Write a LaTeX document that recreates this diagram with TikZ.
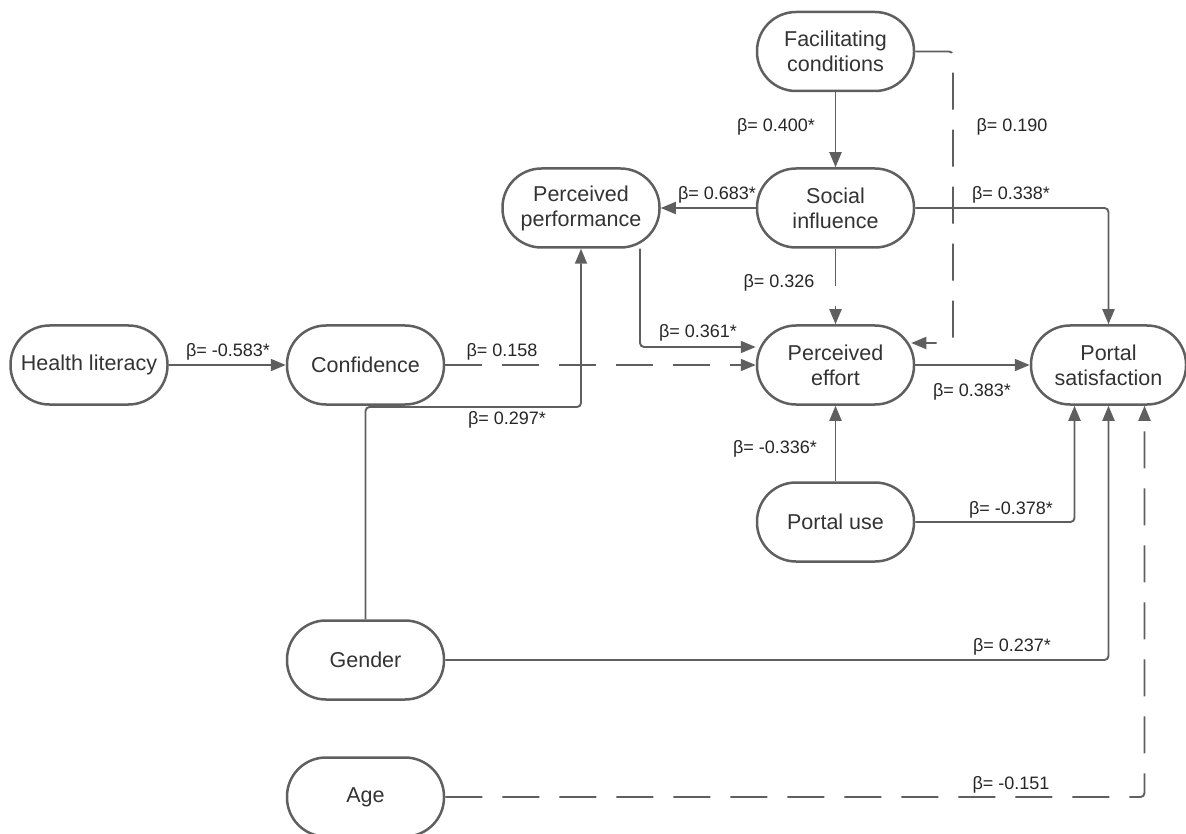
\documentclass[tikz,border=0pt]{standalone}
\usepackage{fontspec}
\setmainfont{Liberation Sans}
\usepackage{tikz}
\usetikzlibrary{arrows.meta,positioning}
\usepackage{xcolor}
\definecolor{linegray}{RGB}{95,95,95}
\definecolor{textgray}{RGB}{51,51,51}
\tikzstyle{factor} = [draw=linegray, line width=2.5pt, rounded corners=39pt, minimum width=157pt, minimum height=79pt, inner sep=0pt, align=center, text=textgray, font=\fontsize{21.5}{25}\selectfont]
\tikzstyle{link} = [line width=1.9pt, color=linegray, -{Triangle[length=15pt,width=12pt]}, rounded corners=4pt]
\tikzstyle{weaklink} = [link, dash pattern=on 37pt off 20pt]
\tikzstyle{coef} = [font=\fontsize{18}{20}\selectfont, text=black!85, inner sep=1pt]

\begin{document}
\begin{tikzpicture}[x=1pt, y=-1pt]
\useasboundingbox (0,0) rectangle (1186,834);

% Factors
\node[factor] (fc) at (835.5,51.5) {Facilitating\\conditions};
\node[factor] (si) at (835.5,208) {Social\\influence};
\node[factor] (pp) at (581,208) {Perceived\\performance};
\node[factor] (hl) at (89,365) {Health literacy};
\node[factor] (conf) at (365.5,365) {Confidence};
\node[factor] (pe) at (835.5,365) {Perceived\\effort};
\node[factor, minimum width=155pt] (ps) at (1108.5,365) {Portal\\satisfaction};
\node[factor] (pu) at (835.5,522) {Portal use};
\node[factor] (gender) at (365.5,660) {Gender};
\node[factor] (age) at (365.5,797) {Age};

% Bends
\coordinate (fcdrop) at (953,343);
\coordinate (gbend) at (365.5,407);

% Paths
\draw[link] (fc) -- (si);
\draw[weaklink] (fc.east) -| (fcdrop) -- ([xshift=-4pt,yshift=22pt]pe.east);
\draw[link] (si) -- (pp);
\draw[link] (si.east) -| (ps.north);
\draw[weaklink] (si) -- (pe);
\draw[link] ([xshift=59pt]pp.south) |- ([yshift=18pt]pe.west);
\draw[link] (hl) -- (conf);
\draw[weaklink] (conf) -- (pe);
\draw[link] (gender.north) -- (gbend) -| (pp.south);
\draw[link] (pe) -- (ps);
\draw[link] (pu) -- (pe);
\draw[link] (pu.east) -| ([xshift=-34pt]ps.south);
\draw[link] (gender.east) -| (ps.south);
\draw[weaklink] (age.east) -| ([xshift=36pt]ps.south);

% Coefficients
\node[coef] (b400) at (776,127) {β= 0.400*};
\node[coef] (b190) at (1012,127) {β= 0.190};
\node[coef] (b683) at (717,195) {β= 0.683*};
\node[coef] (b338) at (1011,195) {β= 0.338*};
\node[coef] (b326) at (779,283) {β= 0.326};
\node[coef] (b361) at (698,333) {β= 0.361*};
\node[coef] (b583) at (228,352) {β= -0.583*};
\node[coef] (b158) at (502,352) {β= 0.158};
\node[coef] (b383) at (972,392) {β= 0.383*};
\node[coef] (b297) at (507,420) {β= 0.297*};
\node[coef] (b336) at (775,449) {β= -0.336*};
\node[coef] (b378) at (1011,510) {β= -0.378*};
\node[coef] (b237) at (1012,647) {β= 0.237*};
\node[coef] (b151) at (1011,785) {β= -0.151};
\end{tikzpicture}
\end{document}
